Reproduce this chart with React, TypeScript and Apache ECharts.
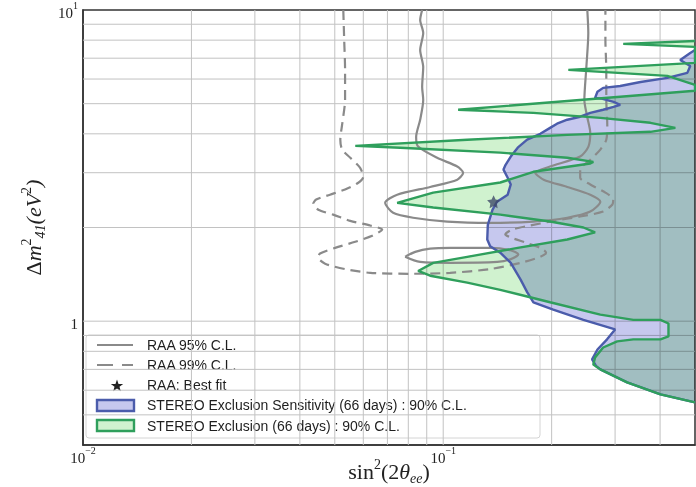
import React, { useEffect, useRef } from "react";
import * as echarts from "echarts";

// Axis ranges (log scales)
const X_MIN = 0.01;
const X_MAX = 0.5;
const Y_MIN = 0.4;
const Y_MAX = 10;

// Decade sub-grid positions
const gridX = [0.02, 0.03, 0.04, 0.05, 0.06, 0.07, 0.08, 0.09, 0.1, 0.2, 0.3, 0.4];
const gridY = [0.5, 0.6, 0.7, 0.8, 0.9, 1, 2, 3, 4, 5, 6, 7, 8, 9];

// STEREO exclusion sensitivity (66 days, 90% C.L.): left edge of the excluded region [sin²2θ, Δm²]
const stereoSensitivity: [number, number][] = [
  [0.5, 7.44], [0.485, 7.28], [0.455, 6.91], [0.485, 6.61], [0.476, 6.28], [0.419, 6.05],
  [0.353, 5.87], [0.31, 5.7], [0.278, 5.62], [0.268, 5.46], [0.264, 5.22], [0.277, 5.18],
  [0.297, 5.07], [0.31, 4.96], [0.297, 4.88], [0.278, 4.78], [0.256, 4.67], [0.24, 4.54],
  [0.221, 4.44], [0.207, 4.31], [0.198, 4.18], [0.186, 4.0], [0.171, 3.83], [0.161, 3.61],
  [0.154, 3.38], [0.149, 3.18], [0.147, 3.07], [0.151, 2.89], [0.154, 2.75], [0.151, 2.55],
  [0.141, 2.42], [0.137, 2.28], [0.133, 2.04], [0.1325, 1.83], [0.135, 1.74], [0.144, 1.66],
  [0.154, 1.54], [0.164, 1.36], [0.171, 1.24], [0.178, 1.15], [0.202, 1.09], [0.245, 1.01],
  [0.3, 0.941], [0.285, 0.874], [0.268, 0.811], [0.259, 0.754], [0.266, 0.716], [0.273, 0.7],
  [0.324, 0.636], [0.401, 0.582], [0.5, 0.548],
];

// STEREO exclusion (66 days, 90% C.L.): left edge of the excluded region
const stereoExclusion: [number, number][] = [
  [0.5, 7.95], [0.316, 7.78], [0.5, 7.61], [0.5, 6.76], [0.2225, 6.42], [0.419, 6.14],
  [0.5, 5.75], [0.5, 5.5], [0.11, 4.78], [0.178, 4.67], [0.273, 4.5], [0.376, 4.34],
  [0.441, 4.18], [0.376, 4.06], [0.221, 3.97], [0.1166, 3.83], [0.057, 3.66], [0.076, 3.61],
  [0.144, 3.48], [0.221, 3.35], [0.261, 3.25], [0.256, 3.21], [0.178, 3.02], [0.144, 2.79],
  [0.0938, 2.59], [0.0745, 2.4], [0.0938, 2.32], [0.144, 2.2], [0.198, 2.09], [0.245, 2.0],
  [0.264, 1.93], [0.221, 1.83], [0.161, 1.72], [0.1166, 1.61], [0.0938, 1.54], [0.0852, 1.45],
  [0.092, 1.4], [0.1166, 1.33], [0.144, 1.26], [0.171, 1.2], [0.198, 1.15], [0.273, 1.05],
  [0.337, 1.01], [0.401, 1.01], [0.422, 0.983], [0.422, 0.893], [0.401, 0.874], [0.337, 0.874],
  [0.304, 0.861], [0.278, 0.823], [0.264, 0.765], [0.261, 0.726], [0.273, 0.7], [0.324, 0.636],
  [0.401, 0.582], [0.5, 0.548],
];

// RAA allowed region, 95% C.L. contour
const raa95: [number, number][] = [
  [0.0874, 10], [0.0863, 9.29], [0.088, 8.44], [0.0863, 7.44], [0.088, 6.56], [0.0874, 5.66],
  [0.088, 5.14], [0.0863, 4.44], [0.0841, 3.91], [0.0852, 3.64], [0.0962, 3.35], [0.1094, 3.14],
  [0.1136, 3.0], [0.1094, 2.85], [0.092, 2.7], [0.0745, 2.55], [0.069, 2.4], [0.0726, 2.23],
  [0.0825, 2.15], [0.1026, 2.09], [0.135, 2.07], [0.178, 2.09], [0.221, 2.15], [0.256, 2.25],
  [0.273, 2.42], [0.256, 2.55], [0.221, 2.7], [0.19, 2.85], [0.18, 3.0], [0.198, 3.14],
  [0.24, 3.38], [0.253, 3.64], [0.256, 4.03], [0.251, 4.54], [0.2465, 5.14], [0.2497, 6.56],
  [0.2528, 8.44], [0.2512, 10],
];

// RAA 95% C.L. closed island
const raa95Island: [number, number][] = [
  [0.0784, 1.61], [0.0836, 1.67], [0.092, 1.71], [0.1045, 1.72], [0.135, 1.72], [0.1535, 1.69],
  [0.1616, 1.64], [0.1535, 1.58], [0.1413, 1.55], [0.1045, 1.54], [0.0863, 1.55], [0.0784, 1.61],
];

// RAA allowed region, 99% C.L. contour
const raa99: [number, number][] = [
  [0.0528, 10], [0.0531, 8.01], [0.0534, 6.42], [0.0534, 5.14], [0.0524, 4.28], [0.0518, 3.83],
  [0.0524, 3.56], [0.0552, 3.35], [0.0588, 3.11], [0.06, 2.91], [0.0577, 2.77], [0.0534, 2.65],
  [0.0485, 2.55], [0.0444, 2.46], [0.0436, 2.39], [0.045, 2.28], [0.0495, 2.2], [0.0552, 2.1],
  [0.0627, 2.03], [0.0677, 1.97], [0.0635, 1.88], [0.057, 1.8], [0.0501, 1.72], [0.0455, 1.65],
  [0.045, 1.6], [0.047, 1.53], [0.0534, 1.47], [0.0627, 1.43], [0.081, 1.42], [0.1045, 1.43],
  [0.135, 1.47], [0.164, 1.54], [0.186, 1.61], [0.193, 1.66], [0.186, 1.72], [0.169, 1.79],
  [0.1535, 1.86], [0.1487, 1.9], [0.1555, 1.97], [0.1745, 2.03], [0.198, 2.09], [0.24, 2.17],
  [0.278, 2.25], [0.295, 2.37], [0.2965, 2.46], [0.282, 2.59], [0.256, 2.75], [0.24, 2.89],
  [0.24, 3.07], [0.256, 3.3], [0.273, 3.56], [0.2836, 3.83], [0.2854, 4.28], [0.2836, 5.14],
  [0.2836, 6.42], [0.282, 8.01], [0.282, 10],
];

// RAA best fit point
const raaBestFit: [number, number][] = [[0.138, 2.42]];

const BLUE_FILL = "#c6c8ee";
const GREEN_FILL = "#d0f2cf";
const BLUE_LINE = "#4b5cab";
const GREEN_LINE = "#2f9f5c";
const GRAY_LINE = "#8a8a8a";
const STAR_PATH =
  "path://M0,-10 L2.94,-4.05 L9.51,-3.09 L4.76,1.55 L5.88,8.09 L0,5 L-5.88,8.09 L-4.76,1.55 L-9.51,-3.09 L-2.94,-4.05 Z";

const SERIF = '"Liberation Serif", "DejaVu Serif", serif';
const SANS = '"Liberation Sans", Arial, sans-serif';

function powerLabel(v: number): string {
  const lg = Math.log10(v);
  const e = Math.round(lg);
  if (Math.abs(lg - e) > 1e-6) return "";
  if (e === 0) return "{b|1}";
  return `{b|10}{s|${e < 0 ? "\u2212" : ""}${Math.abs(e)}}`;
}

const labelRich = {
  b: { fontFamily: SERIF, fontSize: 15, color: "#222", lineHeight: 20, verticalAlign: "bottom" },
  s: { fontFamily: SERIF, fontSize: 10, color: "#222", lineHeight: 9, verticalAlign: "top" },
};

const nameRich = {
  r: { fontFamily: SERIF, fontSize: 22, color: "#222", lineHeight: 28 },
  i: { fontFamily: SERIF, fontSize: 22, fontStyle: "italic", color: "#222", lineHeight: 28 },
  sup: { fontFamily: SERIF, fontSize: 14, color: "#222", lineHeight: 13, verticalAlign: "top" },
  sub: { fontFamily: SERIF, fontSize: 14, fontStyle: "italic", color: "#222", lineHeight: 13, verticalAlign: "bottom" },
};

function gridLines(values: number[], vertical: boolean) {
  return {
    type: "custom",
    coordinateSystem: "cartesian2d",
    silent: true,
    z: 1,
    data: values.map((v) => (vertical ? [v, 1] : [0.1, v])),
    renderItem: (_p: any, api: any) => {
      const v = api.value(vertical ? 0 : 1);
      const a = vertical ? api.coord([v, Y_MIN]) : api.coord([X_MIN, v]);
      const b = vertical ? api.coord([v, Y_MAX]) : api.coord([X_MAX, v]);
      return {
        type: "line",
        shape: { x1: a[0], y1: a[1], x2: b[0], y2: b[1] },
        style: { stroke: "#c2c2c2", lineWidth: 1 },
      };
    },
  };
}

function regionFill(boundary: [number, number][], fill: string) {
  return {
    type: "custom",
    coordinateSystem: "cartesian2d",
    silent: true,
    z: 2,
    data: [boundary[0]],
    renderItem: (_p: any, api: any) => {
      const first = boundary[0];
      const last = boundary[boundary.length - 1];
      const pts = boundary.map((pt) => api.coord(pt));
      pts.push(api.coord([X_MAX, last[1]]), api.coord([X_MAX, first[1]]));
      return { type: "polygon", shape: { points: pts }, style: { fill, stroke: "none" } };
    },
  };
}

function outline(data: [number, number][], color: string, width: number, dash?: number[], smooth = 0) {
  return {
    type: "line",
    data,
    silent: true,
    symbol: "none",
    showSymbol: false,
    smooth,
    z: 3,
    lineStyle: { color, width, type: dash ? dash : "solid" },
  };
}

function starPoints(cx: number, cy: number, R: number, r: number): number[][] {
  const pts: number[][] = [];
  for (let k = 0; k < 10; k++) {
    const ang = -Math.PI / 2 + (k * Math.PI) / 5;
    const rad = k % 2 === 0 ? R : r;
    pts.push([cx + rad * Math.cos(ang), cy + rad * Math.sin(ang)]);
  }
  return pts;
}

const legendText = (y: number, text: string) => ({
  type: "text",
  x: 147,
  y,
  style: { text, font: `14px ${SANS}`, fill: "#1e1e1e", verticalAlign: "middle", align: "left" },
});

export default function App() {
  const ref = useRef<HTMLDivElement>(null);

  useEffect(() => {
    if (!ref.current) return;
    const chart = echarts.init(ref.current, undefined, { renderer: "svg" });
    chart.setOption({
      animation: false,
      backgroundColor: "#ffffff",
      grid: {
        left: 83,
        top: 10,
        width: 612,
        height: 435,
        show: true,
        borderColor: "#333",
        borderWidth: 1.5,
        backgroundColor: "transparent",
        outerBoundsMode: "none",
        containLabel: false,
      },
      xAxis: {
        type: "log",
        logBase: 10,
        min: X_MIN,
        max: X_MAX,
        axisLine: { show: true, lineStyle: { color: "#333", width: 1.5 } },
        axisTick: { show: false },
        splitLine: { show: false },
        axisLabel: { formatter: powerLabel, rich: labelRich, margin: 0 },
        name: "{r|sin}{sup|2}{r|(2}{i|\u03b8}{sub|ee}{r|)}",
        nameLocation: "middle",
        nameGap: 12,
        nameMoveOverlap: false,
        nameTextStyle: { rich: nameRich, verticalAlign: "top" },
      },
      yAxis: {
        type: "log",
        logBase: 10,
        min: Y_MIN,
        max: Y_MAX,
        axisLine: { show: true, lineStyle: { color: "#333", width: 1.5 } },
        axisTick: { show: false },
        splitLine: { show: false },
        axisLabel: { formatter: powerLabel, rich: labelRich, margin: 5 },
        name: "{r|\u0394}{i|m}{sup|2}{sub|41}{i|(eV}{sup|2}{i|)}",
        nameLocation: "middle",
        nameRotate: 90,
        nameGap: 36,
        nameMoveOverlap: false,
        nameTextStyle: { rich: nameRich },
      },
      series: [
        gridLines(gridX, true),
        gridLines(gridY, false),
        regionFill(stereoSensitivity, BLUE_FILL),
        regionFill(stereoExclusion, GREEN_FILL),
        outline(raa99, GRAY_LINE, 2.2, [10, 6], 0.25),
        outline(raa95, GRAY_LINE, 2.2, undefined, 0.25),
        outline(raa95Island, GRAY_LINE, 2.2, undefined, 0.3),
        outline(stereoSensitivity, BLUE_LINE, 2.4),
        outline(stereoExclusion, GREEN_LINE, 2.4),
        {
          type: "scatter",
          data: raaBestFit,
          symbol: STAR_PATH,
          symbolSize: 13,
          silent: true,
          z: 5,
          itemStyle: { color: "#3e4a68" },
        },
      ],
      graphic: [
        {
          type: "group",
          z: 100,
          children: [
            {
              type: "rect",
              shape: { x: 86, y: 335, width: 454, height: 103, r: 3 },
              style: { fill: "rgba(255,255,255,0.8)", stroke: "#d4d4d4", lineWidth: 1 },
            },
            { type: "line", shape: { x1: 97, y1: 345, x2: 133, y2: 345 }, style: { stroke: GRAY_LINE, lineWidth: 2.2 } },
            legendText(345, "RAA 95% C.L."),
            {
              type: "line",
              shape: { x1: 97, y1: 365, x2: 133, y2: 365 },
              style: { stroke: GRAY_LINE, lineWidth: 2.2, lineDash: [16, 9] },
            },
            legendText(365, "RAA 99% C.L."),
            { type: "polygon", shape: { points: starPoints(117, 386, 6.5, 2.6) }, style: { fill: "#222" } },
            legendText(385, "RAA: Best fit"),
            {
              type: "rect",
              shape: { x: 97, y: 400, width: 37, height: 11 },
              style: { fill: BLUE_FILL, stroke: BLUE_LINE, lineWidth: 2.4 },
            },
            legendText(405, "STEREO Exclusion Sensitivity (66 days) : 90% C.L."),
            {
              type: "rect",
              shape: { x: 97, y: 420, width: 37, height: 11 },
              style: { fill: GREEN_FILL, stroke: GREEN_LINE, lineWidth: 2.4 },
            },
            legendText(426, "STEREO Exclusion (66 days) : 90% C.L."),
          ],
        },
      ],
    });
    return () => chart.dispose();
  }, []);

  return (
    <>
      <style>{`#stereo-plot path[fill="${BLUE_FILL}"], #stereo-plot path[fill="${GREEN_FILL}"] { mix-blend-mode: multiply; }`}</style>
      <div
        id="stereo-plot"
        ref={ref}
        style={{ position: "fixed", left: 0, top: 0, width: 696, height: 487, background: "#fff" }}
      />
    </>
  );
}
